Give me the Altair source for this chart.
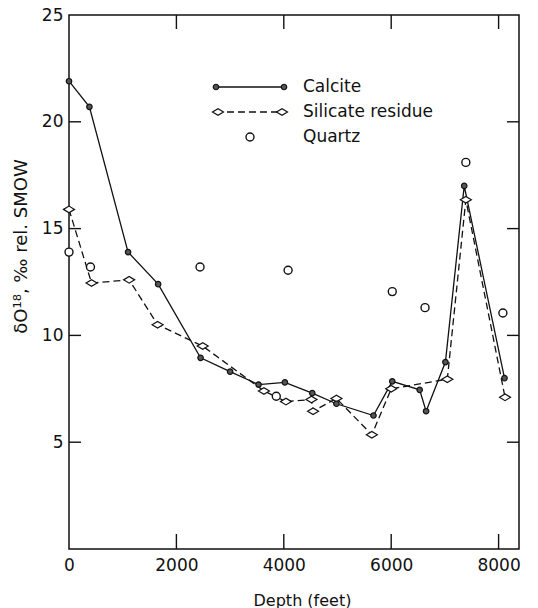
import altair as alt
import pandas as pd

# Oxygen-isotope composition versus depth
calcite_depth = [0, 380, 1100, 1660, 2450, 3000, 3530, 4020, 4530, 4980, 5670, 6020, 6530, 6650, 7010, 7360, 8110]
calcite_d18o = [21.9, 20.7, 13.9, 12.4, 8.95, 8.3, 7.7, 7.8, 7.3, 6.8, 6.25, 7.85, 7.45, 6.45, 8.75, 17.0, 8.0]

silicate_depth = [0, 420, 1120, 1650, 2490, 3630, 4040, 4515, 4545, 4980, 5640, 6000, 7045, 7390, 8120]
silicate_d18o = [15.9, 12.45, 12.6, 10.5, 9.5, 7.4, 6.9, 7.0, 6.45, 7.05, 5.35, 7.5, 7.95, 16.35, 7.1]

quartz_depth = [0, 400, 2440, 3860, 4080, 6020, 6630, 7390, 8080]
quartz_d18o = [13.9, 13.2, 13.2, 7.15, 13.05, 12.05, 11.3, 18.1, 11.05]

x_ticks = [0, 2000, 4000, 6000, 8000]
y_ticks = [5, 10, 15, 20, 25]
x_inner_ticks = [2000, 4000, 6000, 8000]
y_inner_ticks = [5, 10, 15, 20]

legend_labels = ["Calcite", "Silicate residue", "Quartz"]

W, H = 450, 534
FONT = "DejaVu Sans"
INK = "#111111"

calcite = pd.DataFrame({"depth": calcite_depth, "d18o": calcite_d18o})
silicate = pd.DataFrame({"depth": silicate_depth, "d18o": silicate_d18o})
quartz = pd.DataFrame({"depth": quartz_depth, "d18o": quartz_d18o})

xscale = alt.Scale(domain=[0, 8380], nice=False, zero=False)
yscale = alt.Scale(domain=[0, 25], nice=False, zero=False)

DIAMOND = "M-1,0L0,-0.6L1,0L0,0.6Z"

x_axis = alt.Axis(
    values=x_ticks, format="d", grid=False, domain=False, ticks=False, tickSize=0,
    labelFlush=False, labelOverlap=False,
    labelFont=FONT, labelFontSize=17, labelColor=INK, labelPadding=8,
    title="Depth (feet)", titleFont=FONT, titleFontSize=16, titleFontWeight="normal",
    titleColor=INK, titleX=233, titleY=51, titleBaseline="middle", titleAlign="center",
)
y_axis = alt.Axis(
    values=y_ticks, grid=False, domain=False, ticks=False, tickSize=0,
    labelFlush=False, labelOverlap=False,
    labelFont=FONT, labelFontSize=17, labelColor=INK, labelPadding=6,
    title="δO¹⁸, ‰ rel. SMOW", titleFont=FONT, titleFontSize=18, titleFontWeight="normal",
    titleColor=INK, titleX=-48, titleY=231, titleBaseline="middle", titleAlign="center",
    titleAngle=-90,
)


def xenc():
    return alt.X("depth:Q", scale=xscale, axis=x_axis)


def yenc():
    return alt.Y("d18o:Q", scale=yscale, axis=y_axis)


calcite_line = alt.Chart(calcite).mark_line(color=INK, strokeWidth=1.3).encode(x=xenc(), y=yenc())
silicate_line = alt.Chart(silicate).mark_line(
    color=INK, strokeWidth=1.3, strokeDash=[7, 4]).encode(x=xenc(), y=yenc())
silicate_pts = alt.Chart(silicate).mark_point(
    shape=DIAMOND, size=121, filled=True, fill="white", stroke=INK, strokeWidth=1.2, opacity=1
).encode(x=xenc(), y=yenc())
calcite_pts = alt.Chart(calcite).mark_point(
    shape="circle", size=30, filled=True, fill="#555555", stroke=INK, strokeWidth=1.2, opacity=1
).encode(x=xenc(), y=yenc())
quartz_pts = alt.Chart(quartz).mark_point(
    shape="circle", size=64, filled=True, fill="white", stroke=INK, strokeWidth=1.4, opacity=1
).encode(x=xenc(), y=yenc())

# Inward-pointing tick marks on all four sides of the frame
xt = pd.DataFrame({"depth": x_inner_ticks})
yt = pd.DataFrame({"d18o": y_inner_ticks})
tick_style = dict(color=INK, strokeWidth=1.4)
bottom_ticks = alt.Chart(xt).mark_rule(**tick_style).encode(
    x=xenc(), y=alt.value(H), y2=alt.value(H - 15))
top_ticks = alt.Chart(xt).mark_rule(**tick_style).encode(
    x=xenc(), y=alt.value(0), y2=alt.value(14))
left_ticks = alt.Chart(yt).mark_rule(**tick_style).encode(
    y=yenc(), x=alt.value(0), x2=alt.value(12))
right_ticks = alt.Chart(yt).mark_rule(**tick_style).encode(
    y=yenc(), x=alt.value(W), x2=alt.value(W - 12))

# Hand-placed key in the upper part of the plot
one = pd.DataFrame({"k": [0]})
key_x0, key_x1, key_text_x = 147, 215, 234
key_rows = [72, 97, 122]


def key_line(y, dash=None):
    kw = dict(color=INK, strokeWidth=1.3)
    if dash:
        kw["strokeDash"] = dash
    return alt.Chart(one).mark_rule(**kw).encode(
        x=alt.value(key_x0), x2=alt.value(key_x1), y=alt.value(y))


def key_marker(x, y, **kw):
    return alt.Chart(one).mark_point(opacity=1, **kw).encode(x=alt.value(x), y=alt.value(y))


def key_text(label, y):
    return alt.Chart(pd.DataFrame({"t": [label]})).mark_text(
        align="left", baseline="middle", font=FONT, fontSize=17, color=INK
    ).encode(x=alt.value(key_text_x), y=alt.value(y), text="t:N")


calc_style = dict(shape="circle", size=30, filled=True, fill="#555555", stroke=INK, strokeWidth=1.2)
sil_style = dict(shape=DIAMOND, size=121, filled=True, fill="white", stroke=INK, strokeWidth=1.2)
qtz_style = dict(shape="circle", size=64, filled=True, fill="white", stroke=INK, strokeWidth=1.4)

key = [
    key_line(key_rows[0]),
    key_marker(key_x0, key_rows[0], **calc_style),
    key_marker(key_x1, key_rows[0], **calc_style),
    key_text(legend_labels[0], key_rows[0]),
    key_line(key_rows[1], dash=[7, 4]),
    key_marker(key_x0 + 2, key_rows[1], **sil_style),
    key_marker(key_x1 - 2, key_rows[1], **sil_style),
    key_text(legend_labels[1], key_rows[1]),
    key_marker((key_x0 + key_x1) / 2, key_rows[2], **qtz_style),
    key_text(legend_labels[2], key_rows[2]),
]

chart = alt.layer(
    calcite_line, silicate_line, bottom_ticks, top_ticks, left_ticks, right_ticks,
    silicate_pts, calcite_pts, quartz_pts, *key,
).properties(
    width=W, height=H,
    autosize=alt.AutoSizeParams(type="none"),
    padding={"left": 69, "top": 15, "right": 19, "bottom": 59},
    background="white",
).configure_view(stroke=INK, strokeWidth=1.5)

chart.save("out.html", embed_options={"renderer": "svg", "actions": False})
